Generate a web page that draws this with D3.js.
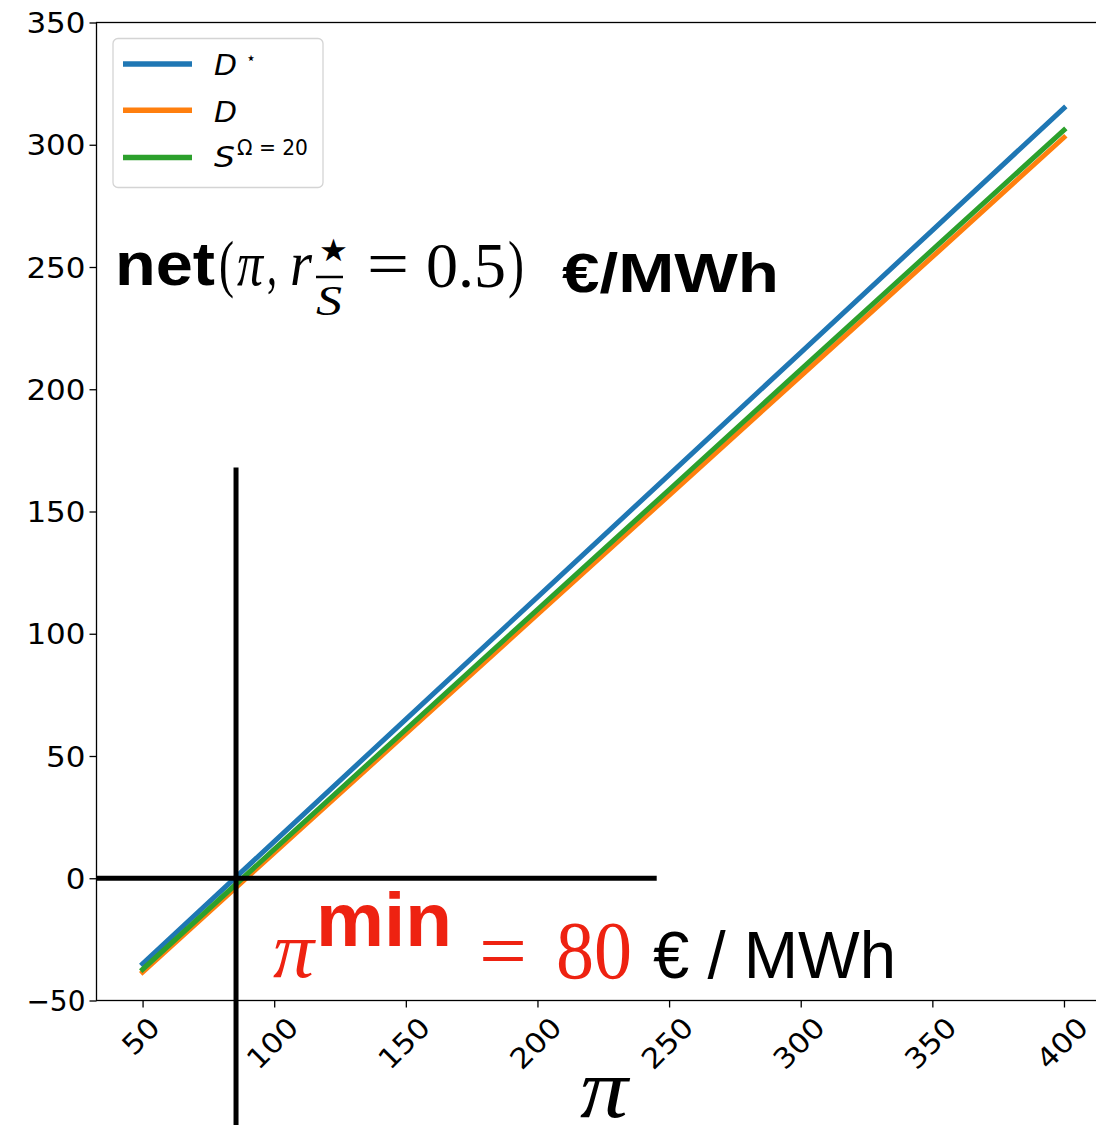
<!DOCTYPE html>
<html>
<head>
<meta charset="utf-8">
<script src="https://cdn.jsdelivr.net/npm/d3@7"></script>
<style>
  html, body { margin: 0; padding: 0; background: #ffffff; }
  svg { display: block; }
</style>
</head>
<body>
<script>
// ---------------- data ----------------
const piValues = [50, 100, 150, 200, 250, 300, 350, 400];
const dStarValues = [-35, 15, 65, 115, 165, 215, 265, 315];
const dValues = [-38.4, 10.4, 59.1, 107.9, 156.6, 205.4, 254.1, 303.0];
const sValues = [-37.3, 11.8, 60.8, 109.9, 158.9, 208.0, 257.0, 306.0];
const seriesNames = ["D*", "D", "S"];
const seriesColors = ["#1f77b4", "#ff7f0e", "#2ca02c"];
const xTickValues = [50, 100, 150, 200, 250, 300, 350, 400];
const yTickValues = [-50, 0, 50, 100, 150, 200, 250, 300, 350];
const xDomain = [32.5, 417.5];
const yDomain = [-50, 350];
const piMinLineX = 85.5;          // vertical reference line (data x)
const piMinLineY = [-103, 168];   // its extent (data y)
const zeroLineX = [32.5, 245.3];  // horizontal reference line at y = 0

// ---------------- layout ----------------
const W = 1096, H = 1125;
const x = d3.scaleLinear().domain(xDomain).range([96.5, 1110.05]);
const y = d3.scaleLinear().domain(yDomain).range([1000.5, 22.5]);

const svg = d3.select("body").append("svg")
  .attr("width", W).attr("height", H)
  .attr("viewBox", `0 0 ${W} ${H}`);

svg.append("defs").append("clipPath").attr("id", "plotclip")
  .append("rect")
  .attr("x", x.range()[0]).attr("y", y.range()[1])
  .attr("width", x.range()[1] - x.range()[0])
  .attr("height", y.range()[0] - y.range()[1]);

function addText(parent, o) {
  const t = parent.append("text")
    .attr("x", o.x).attr("y", o.y)
    .attr("font-family", o.family || "DejaVu Sans")
    .attr("font-size", o.size)
    .attr("font-style", o.style || "normal")
    .attr("font-weight", o.weight || "normal")
    .attr("fill", o.fill || "#000")
    .attr("text-anchor", o.anchor || "start")
    .text(o.text);
  if (o.len) t.attr("textLength", o.len).attr("lengthAdjust", "spacingAndGlyphs");
  return t;
}

// ---------------- data lines ----------------
const series = [dStarValues, dValues, sValues];
const line = d3.line().x((d, i) => x(piValues[i])).y(d => y(d));
const plot = svg.append("g").attr("clip-path", "url(#plotclip)");
series.forEach((vals, k) => {
  plot.append("path")
    .datum(vals)
    .attr("d", line)
    .attr("fill", "none")
    .attr("stroke", seriesColors[k])
    .attr("stroke-width", 5)
    .attr("stroke-linecap", "square");
});

// ---------------- reference lines ----------------
plot.append("line")
  .attr("x1", x(zeroLineX[0])).attr("x2", x(zeroLineX[1]))
  .attr("y1", y(0)).attr("y2", y(0))
  .attr("stroke", "#000").attr("stroke-width", 5);
svg.append("line")
  .attr("x1", x(piMinLineX)).attr("x2", x(piMinLineX))
  .attr("y1", y(piMinLineY[0])).attr("y2", y(piMinLineY[1]))
  .attr("stroke", "#000").attr("stroke-width", 5);

// ---------------- axes ----------------
const yAxis = d3.axisLeft(y).tickValues(yTickValues).tickSize(7).tickPadding(4);
const gy = svg.append("g").attr("transform", `translate(${x.range()[0]},0)`).call(yAxis);
gy.select(".domain").remove();
gy.selectAll(".tick line").attr("stroke", "#000").attr("stroke-width", 1.3);
gy.selectAll(".tick text")
  .attr("font-family", "DejaVu Sans").attr("font-size", 28).attr("fill", "#000")
  .attr("dy", "0.36em")
  .each(function() {
    const s = d3.select(this).text();
    d3.select(this).attr("textLength", s.length * 19.7).attr("lengthAdjust", "spacingAndGlyphs");
  });

const xAxis = d3.axisBottom(x).tickValues(xTickValues).tickSize(7).tickFormat(d3.format("d"));
const gx = svg.append("g").attr("transform", `translate(0,${y.range()[0]})`).call(xAxis);
gx.select(".domain").remove();
gx.selectAll(".tick line").attr("stroke", "#000").attr("stroke-width", 1.3);
gx.selectAll(".tick text").remove();
xTickValues.forEach(v => {
  const s = String(v);
  const w = s.length * 19.7;
  const cx = x(v) - 2;
  const cy = 1015 + (w + 20) * 0.3535;
  svg.append("text")
    .attr("transform", `translate(${cx},${cy}) rotate(-45)`)
    .attr("text-anchor", "middle")
    .attr("dy", "0.36em")
    .attr("font-family", "DejaVu Sans").attr("font-size", 28).attr("fill", "#000")
    .attr("textLength", w).attr("lengthAdjust", "spacingAndGlyphs")
    .text(s);
});

// spines (frame)
svg.append("rect")
  .attr("x", x.range()[0]).attr("y", y.range()[1])
  .attr("width", x.range()[1] - x.range()[0])
  .attr("height", y.range()[0] - y.range()[1])
  .attr("fill", "none").attr("stroke", "#000").attr("stroke-width", 1.3);

// x-axis label
addText(svg, { text: "π", x: 580, y: 1117, size: 84, family: "Liberation Serif", style: "italic", len: 48 });

// ---------------- legend ----------------
const leg = svg.append("g");
leg.append("rect")
  .attr("x", 113).attr("y", 38.5).attr("width", 210).attr("height", 149)
  .attr("rx", 5).attr("ry", 5)
  .attr("fill", "#fff").attr("fill-opacity", 0.8)
  .attr("stroke", "#d4d4d4").attr("stroke-width", 1.3);
const legY = [64, 110.3, 157.5];
seriesColors.forEach((c, k) => {
  leg.append("line")
    .attr("x1", 123).attr("x2", 192)
    .attr("y1", legY[k]).attr("y2", legY[k])
    .attr("stroke", c).attr("stroke-width", 5.5);
});
addText(leg, { text: "D", x: 214, y: 75, size: 28, style: "italic", len: 23 });
addText(leg, { text: "⋆", x: 246, y: 64, size: 18, len: 10 });
addText(leg, { text: "D", x: 214, y: 121.5, size: 28, style: "italic", len: 23 });
addText(leg, { text: "S", x: 214, y: 167, size: 28, style: "italic", len: 21 });
addText(leg, { text: "Ω = 20", x: 237, y: 155, size: 20.5, len: 71 });

// ---------------- title annotation ----------------
const ann = svg.append("g");
addText(ann, { text: "net", x: 115, y: 285, size: 61, family: "Liberation Sans", weight: "bold", len: 100 });
addText(ann, { text: "(", x: 219, y: 285, size: 64, family: "Liberation Serif", len: 15 });
addText(ann, { text: "π", x: 237, y: 285, size: 64, family: "Liberation Serif", style: "italic", len: 26 });
addText(ann, { text: ",", x: 267, y: 285, size: 64, family: "Liberation Serif", len: 10 });
addText(ann, { text: "r", x: 290, y: 285, size: 64, family: "Liberation Serif", style: "italic", len: 22 });
addText(ann, { text: "★", x: 319, y: 261, size: 31, family: "DejaVu Sans", len: 29 });
ann.append("line").attr("x1", 316).attr("x2", 343).attr("y1", 277).attr("y2", 277)
  .attr("stroke", "#000").attr("stroke-width", 2.5);
addText(ann, { text: "S", x: 316, y: 315, size: 42, family: "Liberation Serif", style: "italic", len: 26 });
addText(ann, { text: "=", x: 367, y: 285, size: 64, family: "Liberation Serif", len: 42 });
addText(ann, { text: "0.5", x: 426, y: 287, size: 64, family: "Liberation Serif", len: 80 });
addText(ann, { text: ")", x: 508, y: 285, size: 64, family: "Liberation Serif", len: 16 });
addText(ann, { text: "€/MWh", x: 562, y: 292, size: 56, family: "Liberation Sans", weight: "bold", len: 217 });

// ---------------- pi_min annotation ----------------
const red = "#ee2211";
addText(ann, { text: "π", x: 273, y: 977, size: 80, family: "Liberation Serif", style: "italic", fill: red, len: 41 });
addText(ann, { text: "min", x: 316, y: 946, size: 76, family: "Liberation Sans", weight: "bold", fill: red, len: 136 });
addText(ann, { text: "=", x: 479, y: 978, size: 80, family: "Liberation Serif", fill: red, len: 48 });
addText(ann, { text: "80", x: 556, y: 978, size: 83, family: "Liberation Serif", fill: red, len: 76 });
addText(ann, { text: "€ / MWh", x: 653, y: 978, size: 67, family: "Liberation Sans", fill: "#000", len: 243 });
</script>
</body>
</html>
